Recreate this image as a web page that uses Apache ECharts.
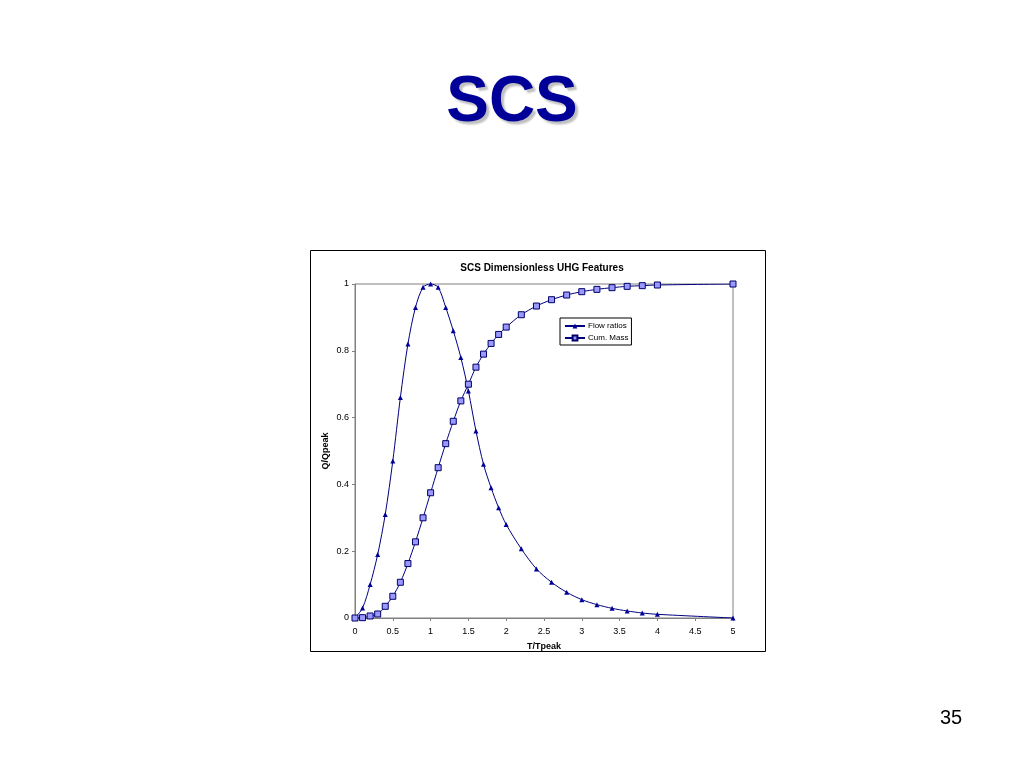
<!DOCTYPE html>
<html>
<head>
<meta charset="utf-8">
<style>
html,body{margin:0;padding:0;background:#fff;}
#c{width:1024px;height:768px;}
</style>
<script src="https://cdn.jsdelivr.net/npm/echarts@6/dist/echarts.min.js"></script>
</head>
<body>
<div id="c"></div>
<script>
// T/Tpeak values
const flowT = [0,0.1,0.2,0.3,0.4,0.5,0.6,0.7,0.8,0.9,1.0,1.1,1.2,1.3,1.4,1.5,1.6,1.7,1.8,1.9,2.0,2.2,2.4,2.6,2.8,3.0,3.2,3.4,3.6,3.8,4.0,5.0];
const flowRatios = [0,0.030,0.100,0.190,0.310,0.470,0.660,0.820,0.930,0.990,1.000,0.990,0.930,0.860,0.780,0.680,0.560,0.460,0.390,0.330,0.280,0.207,0.147,0.107,0.077,0.055,0.040,0.029,0.021,0.015,0.011,0.000];
const massT = [0,0.1,0.2,0.3,0.4,0.5,0.6,0.7,0.8,0.9,1.0,1.1,1.2,1.3,1.4,1.5,1.6,1.7,1.8,1.9,2.0,2.2,2.4,2.6,2.8,3.0,3.2,3.4,3.6,3.8,4.0,5.0];
const cumMass = [0,0.001,0.006,0.012,0.035,0.065,0.107,0.163,0.228,0.300,0.375,0.450,0.522,0.589,0.650,0.700,0.751,0.790,0.822,0.849,0.871,0.908,0.934,0.953,0.967,0.977,0.984,0.989,0.993,0.995,0.997,1.000];
const xTicks = ['0','0.5','1','1.5','2','2.5','3','3.5','4','4.5','5'];
const yTicks = ['0','0.2','0.4','0.6','0.8','1'];

const pair = (xs, ys) => xs.map((x, i) => [x, ys[i]]);
const FONT = 'Liberation Sans, Arial, sans-serif';

const chart = echarts.init(document.getElementById('c'), null, {renderer: 'canvas'});
chart.setOption({
  animation: false,
  backgroundColor: '#ffffff',
  title: [
    {
      text: 'SCS', left: 'center', top: 66,
      textStyle: {fontFamily: FONT, fontSize: 64, fontWeight: 'bold', color: '#000099',
        textShadowColor: 'rgba(0,0,0,0.25)', textShadowOffsetX: 3, textShadowOffsetY: 3, textShadowBlur: 2}
    },
    {
      text: 'SCS Dimensionless UHG Features', left: 537, textAlign: 'center', top: 258,
      textStyle: {fontFamily: FONT, fontSize: 10, fontWeight: 'bold', color: '#000'}
    },
    {
      text: '35', left: 935, top: 703,
      textStyle: {fontFamily: FONT, fontSize: 20, fontWeight: 'normal', color: '#000'}
    }
  ],
  graphic: [
    {type: 'rect', shape: {x: 310.5, y: 250.5, width: 455, height: 401}, style: {fill: 'none', stroke: '#000', lineWidth: 1}, z: 0}
  ],
  legend: {
    left: 560, top: 318, orient: 'vertical', itemGap: 4, itemWidth: 20, itemHeight: 6,
    padding: [4, 3, 3, 4],
    borderColor: '#000', borderWidth: 1, backgroundColor: '#fff',
    textStyle: {fontFamily: FONT, fontSize: 8, color: '#000', padding: [0, 0, 0, -2]},
    data: ['Flow ratios', 'Cum. Mass']
  },
  grid: {left: 355, right: 291, top: 284, bottom: 150, show: true, borderColor: '#808080', borderWidth: 1, backgroundColor: '#fff'},
  xAxis: {
    type: 'value', min: 0, max: 5, interval: 0.5,
    name: 'T/Tpeak', nameLocation: 'middle', nameGap: 24,
    nameTextStyle: {fontFamily: FONT, fontSize: 9, fontWeight: 'bold', color: '#000'},
    axisLine: {show: true, lineStyle: {color: '#808080', width: 1}},
    axisTick: {show: true, inside: false, length: 3, lineStyle: {color: '#808080'}},
    axisLabel: {fontFamily: FONT, fontSize: 9, color: '#000', margin: 9,
      formatter: (v) => xTicks[Math.round(v / 0.5)]},
    splitLine: {show: false}
  },
  yAxis: {
    type: 'value', min: 0, max: 1, interval: 0.2,
    name: 'Q/Qpeak', nameLocation: 'middle', nameGap: 25, nameRotate: 90,
    nameTextStyle: {fontFamily: FONT, fontSize: 9, fontWeight: 'bold', color: '#000'},
    axisLine: {show: true, lineStyle: {color: '#808080', width: 1}},
    axisTick: {show: true, inside: false, length: 3, lineStyle: {color: '#808080'}},
    axisLabel: {fontFamily: FONT, fontSize: 9, color: '#000', margin: 6,
      formatter: (v) => yTicks[Math.round(v / 0.2)]},
    splitLine: {show: false}
  },
  series: [
    {
      name: 'Flow ratios', type: 'line', data: pair(flowT, flowRatios), smooth: 0.3,
      symbol: 'triangle', symbolSize: 5,
      lineStyle: {color: '#000080', width: 1},
      itemStyle: {color: '#000099', borderColor: '#000099', borderWidth: 0},
      z: 3
    },
    {
      name: 'Cum. Mass', type: 'line', data: pair(massT, cumMass), smooth: 0.3,
      symbol: 'rect', symbolSize: 6,
      lineStyle: {color: '#000080', width: 1},
      itemStyle: {color: '#9999ff', borderColor: '#000066', borderWidth: 1},
      z: 4
    }
  ]
});
</script>
</body>
</html>
